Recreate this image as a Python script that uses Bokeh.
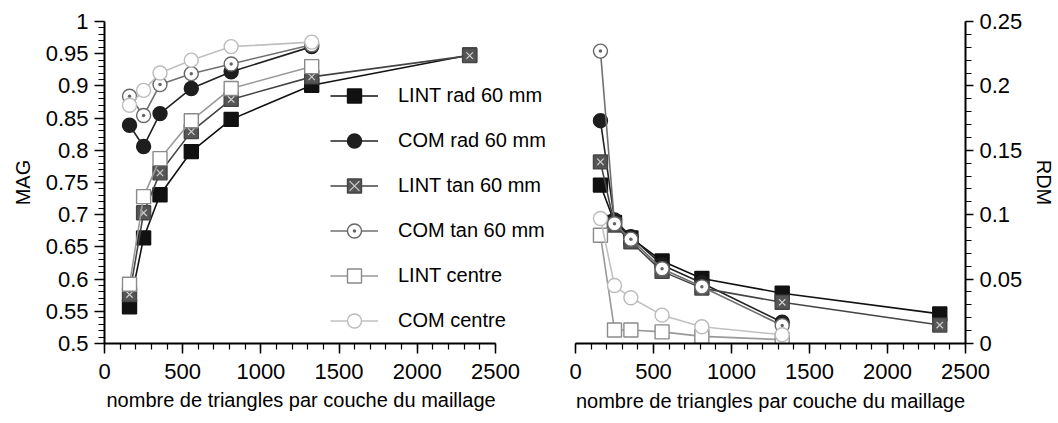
from bokeh.plotting import figure
from bokeh.models import Range1d, SingleIntervalTicker, CustomJSTickFormatter, Title
from bokeh.layouts import row
from bokeh.embed import file_html
from bokeh.resources import INLINE

# ---------------- data ----------------
x_long = [160, 250, 355, 555, 810, 1325, 2335]
x_short = [160, 250, 355, 555, 810, 1325]

series_names = ["LINT rad 60 mm", "COM rad 60 mm", "LINT tan 60 mm",
                "COM tan 60 mm", "LINT centre", "COM centre"]

mag_lint_rad = [0.557, 0.664, 0.731, 0.798, 0.848, 0.901, 0.948]
mag_com_rad = [0.839, 0.806, 0.857, 0.896, 0.922, 0.961]
mag_lint_tan = [0.576, 0.703, 0.765, 0.829, 0.879, 0.914, 0.947]
mag_com_tan = [0.884, 0.854, 0.902, 0.919, 0.934, 0.964]
mag_lint_centre = [0.592, 0.728, 0.787, 0.846, 0.896, 0.930]
mag_com_centre = [0.870, 0.893, 0.920, 0.940, 0.961, 0.968]

rdm_lint_rad = [0.123, 0.094, 0.082, 0.064, 0.0505, 0.039, 0.023]
rdm_com_rad = [0.173, 0.096, 0.083, 0.061, 0.047, 0.0165]
rdm_lint_tan = [0.141, 0.092, 0.079, 0.056, 0.043, 0.032, 0.0143]
rdm_com_tan = [0.227, 0.093, 0.081, 0.058, 0.044, 0.014]
rdm_lint_centre = [0.084, 0.0105, 0.0105, 0.009, 0.0055, 0.003]
rdm_com_centre = [0.097, 0.045, 0.0355, 0.022, 0.013, 0.0068]

x_label = "nombre de triangles par couche du maillage"
FONT = "Liberation Sans"

# ---------------- styles ----------------
styles = [
    dict(marker="square", fill="#111111", line="#111111", lc="#111111"),
    dict(marker="circle", fill="#1e1e1e", line="#1e1e1e", lc="#222222"),
    dict(marker="square", fill="#555555", line="#444444", lc="#444444", xmark=True),
    dict(marker="circle_dot", fill="white", line="#666666", lc="#707070"),
    dict(marker="square", fill="white", line="#8a8a8a", lc="#999999"),
    dict(marker="circle", fill="white", line="#bbbbbb", lc="#c0c0c0"),
]

fmt = CustomJSTickFormatter(code="return String(Number(tick.toFixed(3)));")


def style_axis(ax, label_standoff=6, title_standoff=8, tick_out=10):
    ax.axis_line_color = "black"
    ax.axis_line_width = 2
    ax.major_tick_line_color = "black"
    ax.major_tick_line_width = 1.5
    ax.minor_tick_line_color = "black"
    ax.minor_tick_line_width = 1.2
    ax.major_tick_in = 0
    ax.major_tick_out = tick_out
    ax.minor_tick_in = 0
    ax.minor_tick_out = 6
    ax.major_label_text_font = FONT
    ax.major_label_text_font_size = "22px"
    ax.major_label_text_color = "black"
    ax.axis_label_text_font = FONT
    ax.axis_label_text_font_size = "20px"
    ax.axis_label_text_font_style = "normal"
    ax.axis_label_text_color = "black"
    ax.major_label_standoff = label_standoff
    ax.axis_label_standoff = title_standoff


def add_series(p, xs, ys, st, label=None, size=14):
    kw = dict(legend_label=label) if label else {}
    p.line(xs, ys, line_color=st["lc"], line_width=1.6, **kw)
    p.scatter(xs, ys, marker=st["marker"], size=size, fill_color=st["fill"],
              line_color=st["line"], line_width=1.4, **kw)
    if st.get("xmark"):
        p.scatter(xs, ys, marker="x", size=size * 0.65, line_color="#d0d0d0",
                  line_width=1.2, **kw)


# ---------------- left plot ----------------
# frame runs wider than the axis so the legend (which spills right) is not clipped
p1 = figure(width=563, height=415, output_backend="svg", toolbar_location=None,
            x_range=Range1d(0, 2916), y_range=Range1d(0.5, 1.0),
            min_border_left=104, min_border_right=3, min_border_top=21,
            min_border_bottom=67)
p1.outline_line_color = None
p1.grid.visible = False

left_data = [mag_lint_rad, mag_com_rad, mag_lint_tan, mag_com_tan,
             mag_lint_centre, mag_com_centre]
for name, ys, st in zip(series_names, left_data, styles):
    xs = x_long if len(ys) == len(x_long) else x_short
    add_series(p1, xs, ys, st, label=name)

p1.xaxis.ticker = SingleIntervalTicker(interval=500, num_minor_ticks=5)
p1.xaxis.bounds = (0, 2500)
p1.yaxis.ticker = SingleIntervalTicker(interval=0.05, num_minor_ticks=5)
p1.yaxis.formatter = fmt
p1.yaxis.axis_label = "MAG"
style_axis(p1.xaxis[0], label_standoff=10, title_standoff=8)
style_axis(p1.yaxis[0], label_standoff=6, title_standoff=9)

x_title_left = Title(text=x_label, align="left", offset=2, standoff=10,
                     text_font=FONT, text_font_size="20px",
                     text_font_style="normal", text_color="black")
p1.add_layout(x_title_left, "below")

lg = p1.legend[0]
lg.location = (226, 5)
lg.padding = 0
lg.margin = 0
lg.spacing = 10
lg.glyph_width = 48
lg.glyph_height = 35
lg.label_standoff = 20
lg.label_text_font = FONT
lg.label_text_font_size = "20px"
lg.label_text_color = "black"
lg.border_line_alpha = 0
lg.background_fill_alpha = 0

# ---------------- right plot ----------------
p2 = figure(width=495, height=415, output_backend="svg", toolbar_location=None,
            x_range=Range1d(0, 2500), y_range=Range1d(0, 0.25),
            y_axis_location="right",
            min_border_left=12, min_border_right=93, min_border_top=16,
            min_border_bottom=66)
p2.outline_line_color = None
p2.grid.visible = False

right_data = [rdm_lint_rad, rdm_com_rad, rdm_lint_tan, rdm_com_tan,
              rdm_lint_centre, rdm_com_centre]
for ys, st in zip(right_data, styles):
    xs = x_long if len(ys) == len(x_long) else x_short
    add_series(p2, xs, ys, st)

p2.xaxis.ticker = SingleIntervalTicker(interval=500, num_minor_ticks=5)
p2.yaxis.ticker = SingleIntervalTicker(interval=0.05, num_minor_ticks=5)
p2.yaxis.formatter = fmt
p2.xaxis.axis_label = x_label
p2.yaxis.axis_label = "RDM"
style_axis(p2.xaxis[0], label_standoff=10, title_standoff=8)
style_axis(p2.yaxis[0], label_standoff=6, title_standoff=8, tick_out=8)

layout = row(p1, p2)
open("out.html", "w").write(file_html(layout, INLINE))
